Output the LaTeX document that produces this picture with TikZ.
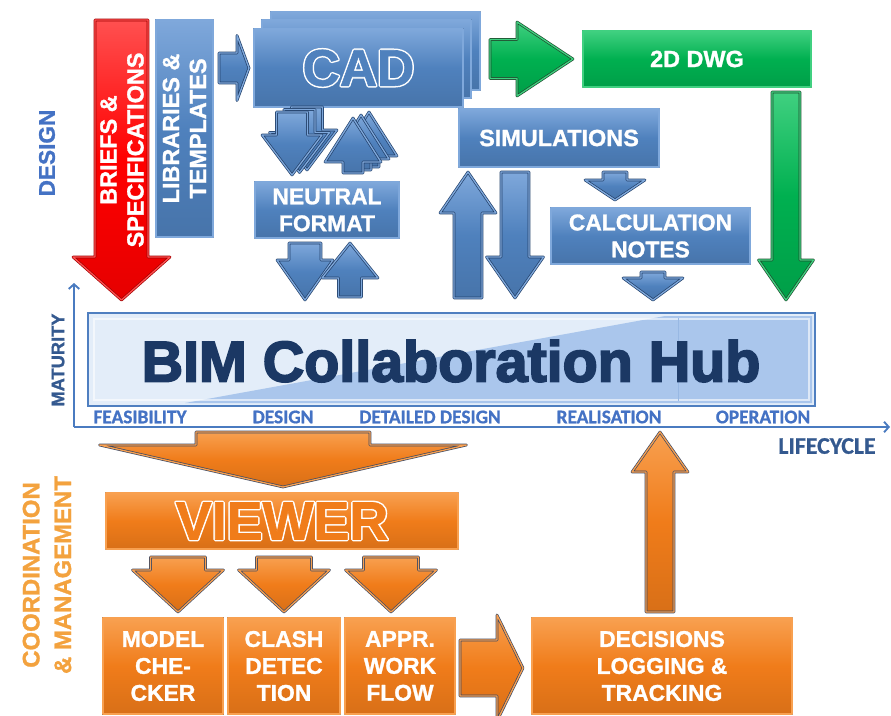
\documentclass[tikz,border=0pt]{standalone}
\usepackage{fontspec}
\setmainfont{Liberation Sans}[BoldFeatures={FakeBold=1.2}]
\newfontfamily\condfont{Carlito}[BoldFeatures={FakeBold=0.8}]
\newfontfamily\heavyfont[BoldFeatures={FakeBold=3.2}]{Liberation Sans}
\newfontfamily\rimfont[BoldFeatures={FakeBold=7}]{Liberation Sans}
\usetikzlibrary{arrows.meta,fit}

\definecolor{bimblue}{HTML}{4F81BD}
\definecolor{bimbluelt}{HTML}{7FA8DB}
\definecolor{bimbluedk}{HTML}{22406A}
\definecolor{bimorange}{HTML}{F07C1A}
\definecolor{bimorangelt}{HTML}{F8A050}
\definecolor{bimorangedk}{HTML}{3E4A63}
\definecolor{bimgreen}{HTML}{00B050}
\definecolor{bimgreenlt}{HTML}{40D080}
\definecolor{bimgreendk}{HTML}{1E4D2E}
\definecolor{bimred}{HTML}{FF0000}
\definecolor{bimredlt}{HTML}{FF5050}
\definecolor{bimreddk}{HTML}{A00000}
\definecolor{hublt}{HTML}{E3EDF9}
\definecolor{hubdk}{HTML}{AAC6EC}
\definecolor{hubedge}{HTML}{4F7FC0}
\definecolor{hubtext}{HTML}{1B3864}
\definecolor{labelblue}{HTML}{4472C4}
\definecolor{axisblue}{HTML}{4A7BC0}
\definecolor{maturityblue}{HTML}{34598F}
\definecolor{coordorange}{HTML}{F3A23E}

\newcommand{\boxfont}{\bfseries\fontsize{19.5}{23}\selectfont}
% vertical block arrow: style, x, tail y, tip y, shaft half, head half, head base y
\newcommand{\varrow}[7]{\path[#1] ({#2-#5},#3) -- ({#2+#5},#3) -- ({#2+#5},#7) -- ({#2+#6},#7)
  -- (#2,#4) -- ({#2-#6},#7) -- ({#2-#5},#7) -- cycle;}
% horizontal block arrow: style, y, tail x, tip x, shaft half, head half, head base x
\newcommand{\harrow}[7]{\path[#1] (#3,{#2-#5}) -- (#7,{#2-#5}) -- (#7,{#2-#6}) -- (#4,#2)
  -- (#7,{#2+#6}) -- (#7,{#2+#5}) -- (#3,{#2+#5}) -- cycle;}

\begin{document}
\begin{tikzpicture}[x=0.03cm, y=-0.03cm,
  solid3d/.style n args={3}{draw=#3, line width=0.6pt, double=#2, double distance=1.1pt,
    line join=round, top color=#2, bottom color=#1!90!black, middle color=#1},
  bluefill/.style={solid3d={bimblue}{bimbluelt}{bimbluedk}},
  orangefill/.style={solid3d={bimorange}{bimorangelt}{bimorangedk}},
  greenfill/.style={solid3d={bimgreen}{bimgreenlt}{bimgreendk}},
  redfill/.style={solid3d={bimred}{bimredlt}{bimreddk}},
  bluebox/.style={bluefill, inner sep=0pt},
  orangebox/.style={orangefill, inner sep=0pt},
  greenbox/.style={greenfill, inner sep=0pt},
  boxtext/.style={text=white, font=\boxfont, align=center, inner sep=0pt},
  rimtext/.style={text=white, line join=round, inner sep=0pt, font=\rimfont\bfseries\fontsize{#1}{#1}\selectfont},
  bigtext/.style={inner sep=0pt, font=\bfseries\fontsize{#1}{#1}\selectfont},
  stage/.style={text=labelblue, font=\condfont\bfseries\fontsize{16.5}{18}\selectfont}]
\useasboundingbox (0,0) rectangle (891,715);
\clip (0,0) rectangle (891,715);

% design side
\node[rotate=90, text=labelblue, font=\bfseries\fontsize{19.3}{23}\selectfont] (design) at (47,153) {DESIGN};
\varrow{redfill}{121.5}{20}{300}{26.5}{48.5}{257}
\node[rotate=90, boxtext, font=\bfseries\fontsize{20}{23}\selectfont] (briefs) at (122,150) {BRIEFS \&\\SPECIFICATIONS};
\node[bluebox, fit={(156,20) (213,237)}] (lib) {};
\node[rotate=90, boxtext, font=\bfseries\fontsize{20}{23}\selectfont] (libtext) at (lib) {LIBRARIES \&\\TEMPLATES};
\harrow{bluefill}{68}{219}{249}{15}{32.5}{237}

\node[bluebox, fit={(271,12) (480,90)}] (cad3) {};
\node[bluebox, fit={(262,20) (471,98)}] (cad2) {};
\node[bluebox, fit={(254,29) (463,107)}] (cad) {};
\node[rimtext=44] (cadrim) at (cad) {CAD};
\node[bigtext=44, text=bimblue] (cadtext) at (cad) {CAD};

\foreach \d in {2,1,0} {
  \varrow{bluefill}{292+7.5*\d}{112-2.5*\d}{175-2.5*\d}{15.5}{30}{135-2.5*\d}
  \varrow{bluefill}{353+8*\d}{173-3*\d}{118-3*\d}{10}{28}{162-3*\d}
}
\node[bluebox, fit={(255,182) (399,238)}] (neutral) {};
\node[boxtext] (neutraltext) at (neutral) {NEUTRAL\\FORMAT};
\varrow{bluefill}{305}{243}{300}{16}{28}{260}
\varrow{bluefill}{350}{297}{243}{11.5}{28}{278}

\harrow{greenfill}{59}{490}{573}{19.5}{37}{517}
\node[greenbox, fit={(583,31) (811,87)}] (dwg) {};
\node[boxtext, font=\bfseries\fontsize{20}{23}\selectfont] (dwgtext) at (dwg) {2D DWG};
\varrow{greenfill}{786}{92}{300}{14}{27.5}{260}

\node[bluebox, fit={(459,109) (659,167)}] (sim) {};
\node[boxtext, font=\bfseries\fontsize{20}{23}\selectfont] (simtext) at (sim) {SIMULATIONS};
\varrow{bluefill}{468}{298}{172}{14}{28}{213}
\varrow{bluefill}{515}{172}{298}{14}{28.5}{257}
\varrow{bluefill}{615}{172}{200}{12}{30}{180}
\node[bluebox, fit={(551,208) (750,264)}] (calc) {};
\node[boxtext] (calctext) at (calc) {CALCULATION\\NOTES};
\varrow{bluefill}{653}{272}{300}{12}{30}{278}

% hub and axes
\node[fit={(88,313) (815,406)}, inner sep=0pt, draw=hubedge, line width=1.8pt, fill=hublt] (hub) {};
\fill[hubdk] (185,403) -- (665,316) -- (812,316) -- (812,403) -- cycle;
\draw[white, opacity=0.6, line width=1.2pt] (94,319) rectangle (809,400);
\draw[hubdk!80!hubedge, line width=0.6pt] (678,318) -- (678,401);
\node[text=hubtext, font=\heavyfont\bfseries\fontsize{49}{49}\selectfont] (hubtitle) at (451,361) {BIM Collaboration Hub};

\coordinate (o) at (74,427);
\coordinate (xend) at (890,427);
\coordinate (yend) at (74,283);
\draw[axisblue, line width=2.2pt, -{Straight Barb[length=4pt,width=9pt,line width=1.6pt]}] (o) -- (xend);
\draw[axisblue, line width=2.2pt, -{Straight Barb[length=4pt,width=9pt,line width=1.6pt]}] (o) -- (yend);
\node[rotate=90, text=maturityblue, font=\bfseries\fontsize{15.6}{18}\selectfont] (maturity) at (58,360) {MATURITY};
\node[stage] (feas) at (140,417) {FEASIBILITY};
\node[stage] (dsgn) at (283,417) {DESIGN};
\node[stage] (detail) at (430,417) {DETAILED DESIGN};
\node[stage] (real) at (609,417) {REALISATION};
\node[stage] (oper) at (763,417) {OPERATION};
\node[text=maturityblue, font=\condfont\bfseries\fontsize{20.4}{22}\selectfont] (life) at (827,446) {LIFECYCLE};

% coordination side
\node[rotate=90, text=coordorange, align=center, font=\bfseries\fontsize{20.4}{27}\selectfont] (coord) at (47,575) {COORDINATION\\\& MANAGEMENT};
\varrow{orangefill}{283}{432}{487}{87}{183.5}{445}
\node[orangebox, fit={(106,493) (458,549)}] (viewer) {};
\node[rimtext=46] (viewerrim) at (viewer) {VIEWER};
\node[bigtext=46, text=bimorange] (viewertext) at (viewer) {VIEWER};
\foreach \x in {178,284,391}
  \varrow{orangefill}{\x}{557}{612}{27.5}{45.5}{570}
\node[orangebox, fit={(103,618) (223,714)}] (model) {};
\node[boxtext] (modeltext) at (model) {MODEL\\CHE-\\CKER};
\node[orangebox, fit={(228,618) (340,714)}] (clash) {};
\node[boxtext] (clashtext) at (clash) {CLASH\\DETEC\\TION};
\node[orangebox, fit={(345,618) (455,714)}] (appr) {};
\node[boxtext] (apprtext) at (appr) {APPR.\\WORK\\FLOW};
\harrow{orangefill}{668}{460}{523}{28}{53}{497}
\node[orangebox, fit={(532,618) (792,714)}] (decis) {};
\node[boxtext] (decistext) at (decis) {DECISIONS\\LOGGING \&\\TRACKING};
\varrow{orangefill}{660}{612}{432}{14}{28}{472}
\end{tikzpicture}
\end{document}
